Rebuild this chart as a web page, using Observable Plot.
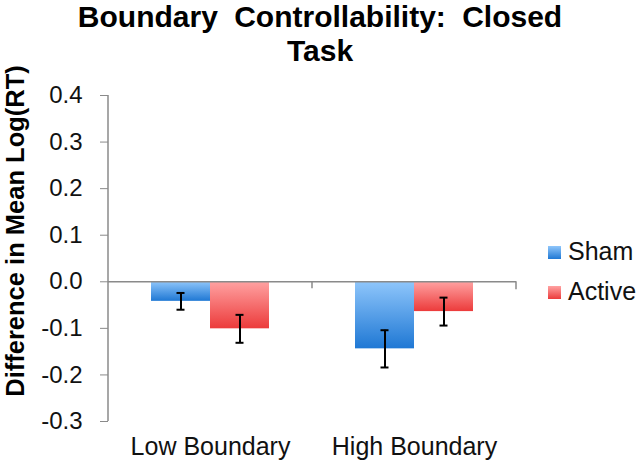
<!DOCTYPE html>
<html><head><meta charset="utf-8">
<script src="https://cdn.jsdelivr.net/npm/d3@7"></script>
<script src="https://cdn.jsdelivr.net/npm/@observablehq/plot@0.6"></script>
<style>
body{margin:0;background:#fff;font-family:"Liberation Sans",Arial,sans-serif;}
#title{width:640px;height:62px;text-align:center;font-weight:bold;font-size:30px;line-height:34px;word-spacing:8px;color:#000;}
#chart svg{display:block;}
</style></head><body>
<div id="title">Boundary Controllability: Closed<br>Task</div>
<div id="chart"></div>
<script>
const categories = ["Low Boundary", "High Boundary"];
const series = ["Sham", "Active"];
const shamValues = [-0.042, -0.144];
const activeValues = [-0.101, -0.064];
const shamErrors = [0.018, 0.040];
const activeErrors = [0.030, 0.030];
const yTicks = [0.4, 0.3, 0.2, 0.1, 0, -0.1, -0.2, -0.3];
const gradientStops = {Sham: ["#8fc6fb", "#1f78d4"], Active: ["#ffa2a2", "#ec3b3b"]};
const yLabel = "Difference in Mean Log(RT)";

const data = categories.flatMap((c, i) => [
  {category: c, series: "Sham", value: shamValues[i], err: shamErrors[i]},
  {category: c, series: "Active", value: activeValues[i], err: activeErrors[i]}
]);

const plot = Plot.plot({
  width: 640, height: 400,
  marginTop: 33, marginBottom: 41, marginLeft: 108, marginRight: 124,
  style: {fontFamily: "Liberation Sans, Arial, sans-serif", background: "transparent", overflow: "visible", color: "#000"},
  fx: {domain: categories, padding: 0},
  x: {domain: series, paddingInner: 0, paddingOuter: 0.725, axis: null},
  y: {domain: [-0.3, 0.4]},
  color: {domain: series, range: series.map(s => `url(#grad-${s})`)},
  marks: [
    Plot.barY(data, {fx: "category", x: "series", y: "value", fill: "series"}),
    Plot.ruleY([0], {stroke: "#8a8a8a", strokeWidth: 1.5}),
    Plot.ruleX(data, {fx: "category", x: "series", y1: d => d.value - d.err, y2: d => d.value + d.err, stroke: "#000", strokeWidth: 2}),
    Plot.tickY(data, {fx: "category", x: "series", y: d => d.value - d.err, stroke: "#000", strokeWidth: 2, insetLeft: 25.5, insetRight: 25.5}),
    Plot.tickY(data, {fx: "category", x: "series", y: d => d.value + d.err, stroke: "#000", strokeWidth: 2, insetLeft: 25.5, insetRight: 25.5}),
    Plot.axisY(yTicks, {tickSize: 8, tickPadding: 18, tickFormat: d => d.toFixed(1), fontSize: 24, stroke: "#8a8a8a", fill: "#111", label: null}),
    Plot.axisFx({anchor: "bottom", tickSize: 0, tickPadding: 16, fontSize: 25, fill: "#111", label: null})
  ]
});

document.getElementById("chart").appendChild(plot);

const svg = d3.select(plot);
const defs = svg.insert("defs", ":first-child");
for (const s of series) {
  const g = defs.append("linearGradient").attr("id", `grad-${s}`).attr("x1", 0).attr("y1", 0).attr("x2", 0).attr("y2", 1);
  g.append("stop").attr("offset", "0%").attr("stop-color", gradientStops[s][0]);
  g.append("stop").attr("offset", "100%").attr("stop-color", gradientStops[s][1]);
}

const y = plot.scale("y");
const fx = plot.scale("fx");
const x0 = fx.range[0], x1 = fx.range[1];
const deco = svg.append("g").attr("stroke", "#8a8a8a").attr("stroke-width", 1.5);
// y axis line
deco.append("line").attr("x1", x0).attr("x2", x0).attr("y1", y.apply(0.4)).attr("y2", y.apply(-0.3));
// category separator ticks on the zero line
for (const c of categories.slice(1)) {
  const xx = fx.apply(c);
  deco.append("line").attr("x1", xx).attr("x2", xx).attr("y1", y.apply(0)).attr("y2", y.apply(0) + 7);
}
deco.append("line").attr("x1", x1).attr("x2", x1).attr("y1", y.apply(0)).attr("y2", y.apply(0) + 8);

// y axis title
svg.append("text")
  .attr("transform", "translate(24,169) rotate(-90)")
  .attr("text-anchor", "middle")
  .attr("font-size", 25.5).attr("font-weight", "bold").attr("fill", "#000")
  .text(yLabel);

// legend
const leg = svg.append("g").attr("font-size", 25).attr("fill", "#111").attr("text-anchor", "start");
series.forEach((s, i) => {
  const cy = 190 + i * 40;
  leg.append("rect").attr("x", 548).attr("y", cy - 6).attr("width", 13).attr("height", 13).attr("fill", `url(#grad-${s})`);
  leg.append("text").attr("x", 568).attr("y", cy + 8).attr("text-anchor", "start").text(s);
});
</script>
</body></html>
